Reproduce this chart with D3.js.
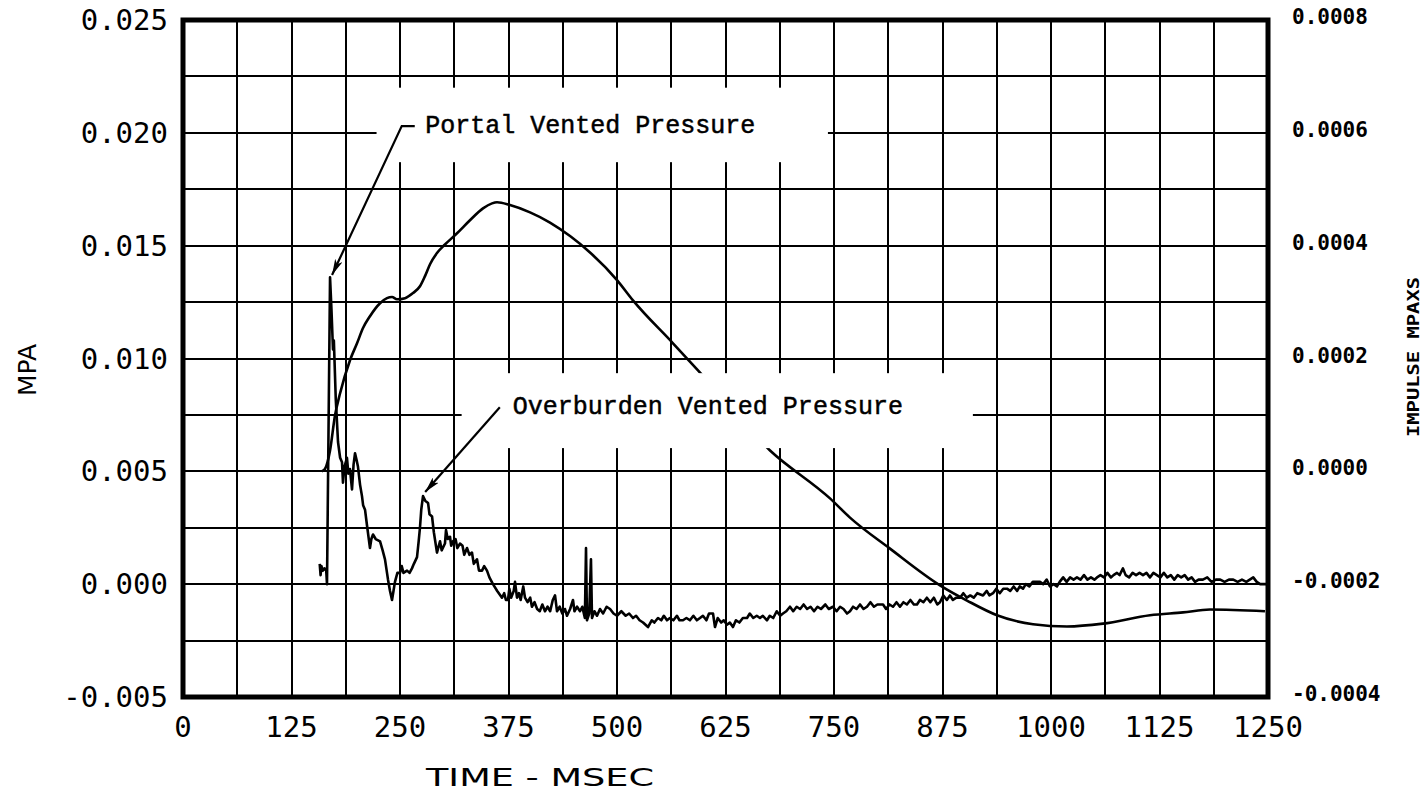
<!DOCTYPE html>
<head>
<meta charset="utf-8">
<script src="https://d3js.org/d3.v7.min.js"></script>
<style>
body {
	margin: 0;
	background: #fff;
}
.grid line {
	stroke: #000;
	stroke-width: 2px;
	shape-rendering: crispEdges;
}
.lab-left, .lab-x {
	font-family: "DejaVu Sans Mono", monospace;
	font-size: 29px;
}
.lab-right {
	font-family: "DejaVu Sans Mono", monospace;
	font-size: 21px;
	font-weight: bold;
}
.note {
	font-family: "Liberation Mono", "Courier New", monospace;
	font-size: 25px;
	stroke: #000;
	stroke-width: 0.5px;
}
.curve {
	fill: none;
	stroke: #000;
	stroke-width: 2.6px;
	stroke-linejoin: round;
}
</style>
</head>
<body>
<svg id="chart" width="1426" height="793"></svg>
<script>

// tick values and labels, as printed
var timeTicks = [0, 125, 250, 375, 500, 625, 750, 875, 1000, 1125, 1250];
var mpaTicks = [-0.005, 0.000, 0.005, 0.010, 0.015, 0.020, 0.025];
var mpaLabels = ["-0.005", "0.000", "0.005", "0.010", "0.015", "0.020", "0.025"];
var impTicks = [-0.0004, -0.0002, 0.0000, 0.0002, 0.0004, 0.0006, 0.0008];
var impLabels = ["-0.0004", "-0.0002", "0.0000", "0.0002", "0.0004", "0.0006", "0.0008"];

// pressure trace [ms, MPa]  (left axis)
var pressure = [
	[157.5, 0.0009], [158.5, 0.0004], [159.5, 0.0008], [161, 0.0006], [163, 0.0007], [165, 0.0006],
	[165.9, 0.0000], [169.4, 0.0136], [171, 0.0122], [172.8, 0.0104], [173.8, 0.0108], [176, 0.0082],
	[178.6, 0.0063], [181, 0.0056], [183.2, 0.0054], [184.3, 0.0045], [186, 0.0052], [188.9, 0.0056],
	[190.5, 0.0049], [192.4, 0.0051], [194.7, 0.0042], [196.5, 0.0053], [198.2, 0.0058], [200, 0.0055],
	[201.6, 0.0052], [204, 0.0044], [206.2, 0.0039], [207.5, 0.0035], [209.7, 0.0033], [212, 0.0026],
	[215.4, 0.0016], [217, 0.0020], [218.9, 0.0022], [222, 0.0020], [227, 0.0019], [230, 0.0015],
	[232.7, 0.0011], [236.2, 0.0002], [238.5, -0.0003], [240.8, -0.0007], [242.5, -0.0003], [244.2, 0.0001],
	[247, 0.0005], [250, 0.0005], [252, 0.0008], [254, 0.0005], [258.1, 0.0006], [261, 0.0005],
	[263.8, 0.0007], [266, 0.0009], [269.6, 0.0012], [271.5, 0.0019], [273, 0.0025], [274.5, 0.0033],
	[276.5, 0.0039], [279, 0.0037], [282.3, 0.0036], [284, 0.0031], [286.9, 0.0030], [289, 0.0023],
	[292.6, 0.0014], [294, 0.0016], [296.1, 0.0019], [298, 0.0015], [301.8, 0.0018], [303, 0.0024],
	[305, 0.0020], [307.6, 0.0021], [309, 0.0017], [311.1, 0.0019], [314, 0.0020], [316, 0.0016],
	[319.1, 0.0018], [322, 0.0017], [324, 0.0013], [327.2, 0.0016], [330, 0.0013], [332.9, 0.0014],
	[335, 0.0009], [338.7, 0.0011], [341, 0.0006], [344.5, 0.0006], [347, 0.0008], [350.2, 0.0006],
	[353, 0.0003], [357.1, 0.0000], [362, -0.0003], [367.5, -0.0006], [370, -0.0004], [372, -0.0007],
	[374.4, -0.0007], [376, -0.0002], [378, -0.0006], [381, -0.0003], [382.5, 0.0001], [384.8, -0.0006],
	[387, -0.0004], [389, -0.0007], [392, -0.0001], [394, -0.0006], [397, -0.0008], [400, -0.0006],
	[402, -0.0010], [405, -0.0008], [408, -0.0011], [411, -0.0012], [414, -0.0009], [417, -0.0012],
	[420, -0.0010], [423, -0.0012], [426, -0.0007], [428.6, -0.0005], [430.9, -0.0012], [434, -0.0010],
	[437, -0.0013], [440, -0.0011], [442.4, -0.0014], [446, -0.0011], [449.3, -0.0007], [451, -0.0012],
	[454, -0.0010], [457.4, -0.0012], [460, -0.0010], [463, -0.0015], [464.3, 0.0016], [465.4, -0.0016],
	[468, -0.0013], [470, 0.0011], [471.2, -0.0015], [474, -0.0012], [477, -0.0014], [480.4, -0.0011],
	[484, -0.0013], [488, -0.0010], [492, -0.0011], [496, -0.0013], [500, -0.0014], [505, -0.0012],
	[510, -0.0014], [514, -0.0013], [518.4, -0.0015], [522, -0.0014], [526, -0.0016], [530, -0.0017],
	[535.7, -0.0019], [540, -0.0016], [543, -0.0017], [547.2, -0.0015], [551, -0.0016], [554, -0.0014],
	[557.6, -0.0016], [561, -0.0015], [565, -0.0016], [569, -0.0014], [572, -0.0016], [576, -0.0016],
	[580, -0.0015], [584, -0.0016], [588, -0.0014], [592, -0.0016], [595.6, -0.0015], [599, -0.0014],
	[603, -0.0016], [606, -0.0013], [610.6, -0.0013], [612.9, -0.0019], [616, -0.0015], [620, -0.0017],
	[623, -0.0016], [626.7, -0.0018], [630, -0.0017], [633.6, -0.0019], [637, -0.0016], [641, -0.0017],
	[645, -0.0015], [649.8, -0.0015], [653, -0.0013], [657, -0.0015], [661, -0.0014], [664.7, -0.0015],
	[668, -0.0014], [672.8, -0.0016], [676, -0.0014], [680, -0.0015], [684, -0.0012], [688, -0.0014],
	[691.2, -0.0013], [695, -0.0012], [699.3, -0.0010], [703, -0.0012], [707, -0.0010], [711, -0.0011],
	[715, -0.0009], [719, -0.0011], [723, -0.0010], [727, -0.0012], [731, -0.0010], [735, -0.0011],
	[740, -0.0009], [744, -0.0011], [748.8, -0.0010], [753, -0.0012], [757, -0.0010], [761, -0.0011],
	[765, -0.0013], [768.4, -0.0012], [772, -0.0010], [776, -0.0011], [780, -0.0009], [784, -0.0011],
	[788, -0.0010], [792, -0.0008], [796, -0.0010], [800, -0.0009], [806.5, -0.0009], [810, -0.0011],
	[814, -0.0009], [818, -0.0010], [822, -0.0008], [826, -0.0010], [830, -0.0008], [834, -0.0009],
	[838, -0.0007], [842, -0.0009], [845.6, -0.0009], [849, -0.0007], [853, -0.0008], [857, -0.0006],
	[861, -0.0008], [865, -0.0006], [869, -0.0009], [872.1, -0.0008], [876, -0.0005], [880, -0.0007],
	[883.6, -0.0005], [887, -0.0007], [891, -0.0006], [895.2, -0.0006], [899, -0.0004], [903, -0.0006],
	[907, -0.0005], [911, -0.0006], [915, -0.0004], [921.7, -0.0005], [926, -0.0003], [929, -0.0005],
	[933.2, -0.0004], [937, -0.0002], [941, -0.0004], [945, -0.0002], [949.3, -0.0002], [953, -0.0003],
	[957, -0.0001], [961, -0.0003], [964, -0.0001], [967.7, -0.0002], [971, 0.0000], [975, -0.0001],
	[979, 0.0001], [983, 0.0001], [987.3, 0.0001], [991, 0.0000], [995, 0.0002], [998.8, -0.0001],
	[1003, 0.0000], [1006.9, -0.0001], [1010, 0.0001], [1014, 0.0003], [1018, 0.0001], [1022, 0.0003],
	[1026, 0.0002], [1029.9, 0.0003], [1034, 0.0002], [1038, 0.0004], [1042, 0.0002], [1046, 0.0003],
	[1050, 0.0002], [1053, 0.0003], [1057, 0.0004], [1061, 0.0003], [1065, 0.0005], [1069, 0.0003],
	[1072, 0.0004], [1076, 0.0005], [1079, 0.0004], [1082.9, 0.0007], [1086, 0.0004], [1090, 0.0003],
	[1094, 0.0005], [1098, 0.0004], [1102, 0.0005], [1106, 0.0004], [1110, 0.0005], [1114, 0.0003],
	[1118, 0.0005], [1122, 0.0004], [1126, 0.0003], [1130, 0.0005], [1134, 0.0003], [1138, 0.0004],
	[1142, 0.0002], [1146, 0.0004], [1150, 0.0003], [1154, 0.0004], [1158, 0.0002], [1162, 0.0003],
	[1166, 0.0001], [1170, 0.0002], [1175, 0.0002], [1180, 0.0003], [1185, 0.0001], [1190, 0.0002],
	[1195, 0.0002], [1200, 0.0001], [1205, 0.0002], [1210, 0.0002], [1215, 0.0001], [1220, 0.0002],
	[1225, 0.0001], [1229, 0.0002], [1233, 0.0003], [1237, 0.0001], [1241, 0.0000], [1245, 0.0000],
	[1249, 0.0000]
];

// impulse [ms, MPa*s]  (right axis)
var impulse = [
	[160.1, 0.0000], [163.5, 0.000004], [169.4, 0.000037], [175.1, 0.000099], [180.9, 0.000138],
	[192.4, 0.000197], [200.5, 0.000227], [207.4, 0.000254], [215.4, 0.000275], [227.0, 0.000298],
	[235.0, 0.000307], [240.8, 0.000309], [246.5, 0.000305], [255.8, 0.000307], [265.0, 0.000316],
	[273.0, 0.000328], [278.8, 0.000346], [284.6, 0.000367], [292.6, 0.000387], [301.8, 0.000402],
	[315.7, 0.000422], [330.6, 0.000445], [345.6, 0.000466], [356.0, 0.000475], [361.8, 0.000477],
	[376.7, 0.000472], [399.8, 0.000459], [422.8, 0.000441], [445.9, 0.000417], [468.9, 0.000388],
	[500.0, 0.000339], [518.4, 0.000303], [564.5, 0.000227], [593.3, 0.000179], [676.3, 0.000037],
	[745.4, -0.000048], [768.4, -0.000082], [814.5, -0.000137], [872.1, -0.000202], [903.2, -0.000229],
	[937.8, -0.000255], [979.3, -0.000271], [1018.4, -0.000275], [1059.9, -0.000270], [1114.1, -0.000255],
	[1152.1, -0.000250], [1183.2, -0.000245], [1246.5, -0.000248]
];

// callouts, placed in data units
var portalNote = {text: "Portal Vented Pressure", box: [223, 743, 0.0220, 0.0187],
	at: [279, 0.0203], leader: [[267, 0.0203], [252, 0.0203], [171.7, 0.0137]]};
var overNote = {text: "Overburden Vented Pressure", box: [321, 910, 0.00935, 0.00603],
	at: [380, 0.00784], leader: [[365, 0.00784], [279, 0.00408]]};

var svg = d3.select("#chart");

var x = d3.scaleLinear().domain([0, 1250]).range([183, 1268]);
var y = d3.scaleLinear().domain([-0.005, 0.025]).range([697, 20]);
var y2 = d3.scaleLinear().domain([-0.0004, 0.0008]).range([697, 20]);

svg.append("rect").attr("width", 1426).attr("height", 793).attr("fill", "#fff");

// grid every 62.5 ms and every 0.0025 MPa
var grid = svg.append("g").attr("class", "grid");
grid.selectAll(".v").data(d3.range(0, 1250.1, 62.5)).enter().append("line")
	.attr("x1", d => x(d)).attr("x2", d => x(d))
	.attr("y1", y(0.025)).attr("y2", y(-0.005));
grid.selectAll(".h").data(d3.range(-0.005, 0.02501, 0.0025)).enter().append("line")
	.attr("x1", x(0)).attr("x2", x(1250))
	.attr("y1", d => y(d)).attr("y2", d => y(d));

// curves
var pLine = d3.line().x(d => x(d[0])).y(d => y(d[1]));
var iLine = d3.line().curve(d3.curveMonotoneX).x(d => x(d[0])).y(d => y2(d[1]));

svg.append("path").attr("class", "curve").attr("d", iLine(impulse));
svg.append("path").attr("class", "curve").attr("d", pLine(pressure));

// frame
svg.append("rect")
	.attr("x", x(0)).attr("y", y(0.025))
	.attr("width", x(1250) - x(0)).attr("height", y(-0.005) - y(0.025))
	.attr("fill", "none").attr("stroke", "#000").attr("stroke-width", 5);

// axis labels
svg.append("g").selectAll("text").data(mpaTicks).enter().append("text")
	.attr("class", "lab-left")
	.attr("x", 168).attr("y", d => y(d))
	.attr("text-anchor", "end").attr("dominant-baseline", "central")
	.text((d, i) => mpaLabels[i]);

svg.append("g").selectAll("text").data(impTicks).enter().append("text")
	.attr("class", "lab-right")
	.attr("x", 1292).attr("y", d => y2(d) - 3)
	.attr("dominant-baseline", "central")
	.text((d, i) => impLabels[i]);

svg.append("g").selectAll("text").data(timeTicks).enter().append("text")
	.attr("class", "lab-x")
	.attr("x", d => x(d)).attr("y", 727)
	.attr("text-anchor", "middle").attr("dominant-baseline", "central")
	.text(d => d);

svg.append("text")
	.attr("transform", "translate(540,777)")
	.attr("text-anchor", "middle").attr("dominant-baseline", "central")
	.attr("font-family", "DejaVu Sans").attr("font-size", 25)
	.attr("textLength", 228).attr("lengthAdjust", "spacingAndGlyphs")
	.text("TIME - MSEC");

svg.append("text")
	.attr("transform", "translate(27,370) rotate(-90)")
	.attr("text-anchor", "middle").attr("dominant-baseline", "central")
	.attr("font-family", "DejaVu Sans").attr("font-size", 25)
	.text("MPA");

svg.append("text")
	.attr("transform", "translate(1414,357) rotate(-90)")
	.attr("text-anchor", "middle").attr("dominant-baseline", "central")
	.attr("font-family", "DejaVu Sans Mono").attr("font-weight", "bold").attr("font-size", 15)
	.attr("textLength", 160).attr("lengthAdjust", "spacingAndGlyphs")
	.text("IMPULSE MPAXS");

// callouts
svg.append("defs").append("marker")
	.attr("id", "head").attr("viewBox", "0 0 16 8")
	.attr("refX", 16).attr("refY", 4)
	.attr("markerWidth", 16).attr("markerHeight", 8)
	.attr("markerUnits", "userSpaceOnUse").attr("orient", "auto")
	.append("path").attr("d", "M0,0 L16,4 L0,8 L4,4 z").attr("fill", "#000");

[portalNote, overNote].forEach(function(n) {
	svg.append("rect")
		.attr("x", x(n.box[0])).attr("y", y(n.box[2]))
		.attr("width", x(n.box[1]) - x(n.box[0]))
		.attr("height", y(n.box[3]) - y(n.box[2]))
		.attr("fill", "#fff");
	svg.append("text").attr("class", "note")
		.attr("x", x(n.at[0])).attr("y", y(n.at[1]))
		.attr("dominant-baseline", "central")
		.text(n.text);
	svg.append("path")
		.attr("d", d3.line().x(d => x(d[0])).y(d => y(d[1]))(n.leader))
		.attr("fill", "none").attr("stroke", "#000").attr("stroke-width", 2.2)
		.attr("marker-end", "url(#head)");
});

</script>
</body>
